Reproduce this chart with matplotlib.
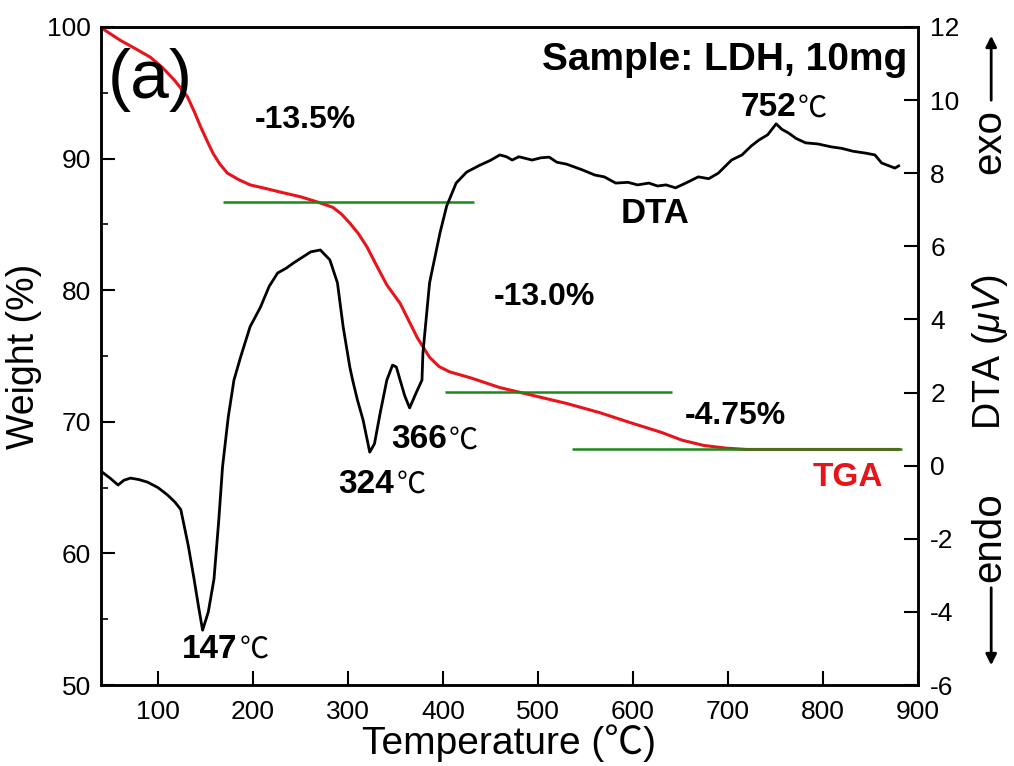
import numpy as np
import matplotlib
matplotlib.use("Agg")
import matplotlib.pyplot as plt

plt.rcParams['font.family'] = ['Liberation Sans', 'Noto Sans CJK SC', 'DejaVu Sans']
plt.rcParams['mathtext.fontset'] = 'custom'
plt.rcParams['mathtext.it'] = 'Liberation Sans:italic'
plt.rcParams['mathtext.rm'] = 'Liberation Sans'
plt.rcParams['axes.unicode_minus'] = False

# TGA curve (weight %)
tga_t = [41, 60, 75, 92, 105, 118, 131, 138, 145, 152, 158, 165, 173, 185, 197,
         215, 232, 250, 268, 284, 293, 302, 311, 320, 330, 341, 355, 364, 373,
         386, 396, 407, 431, 460, 495, 530, 565, 599, 630, 652, 675, 698, 720,
         760, 820, 880]
tga_w = [99.9, 99.0, 98.4, 97.7, 96.9, 95.9, 94.7, 93.6, 92.4, 91.3, 90.4, 89.6,
         88.9, 88.4, 88.0, 87.7, 87.4, 87.1, 86.7, 86.3, 85.8, 85.1, 84.3, 83.3,
         81.9, 80.4, 79.0, 77.7, 76.4, 74.9, 74.2, 73.8, 73.3, 72.6, 72.0, 71.4,
         70.7, 69.9, 69.2, 68.6, 68.2, 68.0, 67.9, 67.9, 67.9, 67.9]

# DTA curve (uV)
dta_t = [41, 50, 58, 64, 71, 80, 89, 100, 110, 118, 124, 127, 132, 138, 143, 147,
         153, 159, 164, 168, 174, 180, 187, 197, 208, 217, 226, 235, 243, 252, 261,
         271, 281, 289, 295, 302, 305, 310, 316, 323, 328, 334, 341, 347, 351, 355,
         360, 365, 372, 378, 379, 386, 397, 404, 414, 425, 439, 450, 460, 467, 473,
         480, 494, 503, 512, 520, 530, 547, 560, 570, 582, 595, 605, 617, 626, 635,
         645, 655, 669, 680, 690, 704, 715, 725, 733, 742, 751, 757, 764, 772, 782,
         795, 809, 820, 832, 845, 855, 862, 870, 876, 880]
dta_v = [-0.17, -0.35, -0.53, -0.4, -0.34, -0.38, -0.45, -0.6, -0.8, -1.0, -1.2,
         -1.57, -2.2, -3.1, -3.9, -4.5, -4.0, -3.1, -1.5, -0.03, 1.33, 2.34, 2.97,
         3.8, 4.34, 4.9, 5.27, 5.4, 5.55, 5.7, 5.85, 5.9, 5.63, 5.0, 3.8, 2.7, 2.34,
         1.8, 1.25, 0.37, 0.6, 1.44, 2.34, 2.75, 2.7, 2.34, 1.9, 1.58, 2.0, 2.34,
         3.08, 5.0, 6.37, 7.1, 7.73, 8.03, 8.22, 8.35, 8.5, 8.45, 8.36, 8.45, 8.36,
         8.42, 8.44, 8.3, 8.25, 8.09, 7.95, 7.9, 7.73, 7.75, 7.68, 7.73, 7.65, 7.68,
         7.6, 7.72, 7.9, 7.85, 8.0, 8.36, 8.5, 8.75, 8.91, 9.05, 9.35, 9.2, 9.1,
         8.95, 8.83, 8.8, 8.72, 8.68, 8.6, 8.55, 8.5, 8.28, 8.2, 8.14, 8.2]

# horizontal step lines (weight %)
step_w = [86.7, 72.3, 67.9]
step_x0 = [169, 402, 536]
step_x1 = [433, 641, 883]

fig = plt.figure(figsize=(10.14, 7.66), dpi=100)
ax = fig.add_axes([0.0996, 0.1057, 0.8054, 0.8591])
ax2 = ax.twinx()

ax.plot(tga_t, tga_w, color='#e8141c', lw=2.2, zorder=3)
ax.hlines(step_w, step_x0, step_x1, color='#1a8a1a', lw=1.8, zorder=4)
ax2.plot(dta_t, dta_v, color='black', lw=2.0)

ax.set_xlim(40, 900)
ax.set_ylim(50, 100)
ax2.set_ylim(-6, 12)
ax.set_xticks(range(100, 901, 100))
ax.set_yticks(range(50, 101, 10))
ax.set_yticks(range(55, 100, 10), minor=True)
ax2.set_yticks(range(-6, 13, 2))

ax.tick_params(axis='x', which='major', direction='in', length=10, width=1.5,
               labelsize=19, pad=11)
ax.tick_params(axis='y', which='major', direction='in', length=10, width=1.5,
               labelsize=19, pad=7)
ax.tick_params(axis='y', which='minor', direction='in', length=5, width=1.2)
ax2.tick_params(axis='y', direction='in', length=10, width=1.5, labelsize=19, pad=9)
for a in (ax, ax2):
    for s in a.spines.values():
        s.set_linewidth(1.8)

ax.set_xlabel('Temperature (℃)', fontsize=28, labelpad=0)
ax.set_ylabel('Weight (%)', fontsize=27, labelpad=4)

# texts
ax.text(47, 96.0, '(a)', fontsize=50, ha='left', va='center')
ax.text(889, 96.7, 'Sample: LDH, 10mg', fontsize=28, fontweight='bold', ha='right')
ax.text(255, 92.3, '-13.5%', fontsize=23, fontweight='bold', ha='center')
ax.text(507, 78.9, '-13.0%', fontsize=23, fontweight='bold', ha='center')
ax.text(708, 69.8, '-4.75%', fontsize=23, fontweight='bold', ha='center')
ax.text(623, 85.1, 'DTA', fontsize=25, fontweight='bold', ha='center')
ax.text(826, 65.1, 'TGA', fontsize=24, fontweight='bold', ha='center', color='#e8141c')

peak_lbl = ['147', '324', '366', '752']
peak_x = [184, 349, 404, 772]
peak_y = [52.05, 64.6, 68.0, 93.2]
for lbl, px, py in zip(peak_lbl, peak_x, peak_y):
    ax.text(px, py, lbl, fontsize=24, fontweight='bold', ha='right')
    ax.text(px + 2, py, '℃', fontsize=21, ha='left',
            family=['Noto Sans CJK SC', 'DejaVu Sans'])

# right side label and exo/endo arrows
fig.text(0.976, 1 - 352 / 766, r'DTA ($\mu V$)', rotation=90, fontsize=27,
         ha='center', va='center')
fig.text(0.976, 1 - 142 / 766, 'exo', rotation=90, fontsize=29, ha='center', va='center')
fig.text(0.976, 1 - 537 / 766, 'endo', rotation=90, fontsize=29, ha='center', va='center')
fig.patches.append(matplotlib.patches.FancyArrowPatch(
    (0.9775, 1 - 103 / 766), (0.9775, 1 - 33 / 766), transform=fig.transFigure,
    arrowstyle='-|>', mutation_scale=16, lw=2.0, color='black'))
fig.patches.append(matplotlib.patches.FancyArrowPatch(
    (0.9775, 1 - 585 / 766), (0.9775, 1 - 668 / 766), transform=fig.transFigure,
    arrowstyle='-|>', mutation_scale=16, lw=2.0, color='black'))

fig.savefig('out.png', dpi=100)
